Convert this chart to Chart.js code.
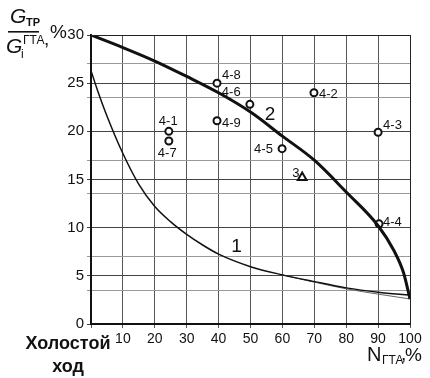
<!DOCTYPE html>
<html><head><meta charset="utf-8">
<script src="https://cdn.jsdelivr.net/npm/chart.js@4/dist/chart.umd.min.js"></script>
<style>html,body{margin:0;padding:0;background:#fff;}canvas{display:block;}</style>
</head><body>
<canvas id="c" width="430" height="378"></canvas>
<script>
// Curve 1 (thin) and curve 2 (thick), x = N_ГТА %, y = G_ТР/G_i^ГТА %
const curve1X = [0, 2, 5, 10, 15, 20, 25, 30, 35, 40, 50, 60, 70, 80, 90, 100];
const curve1Y = [26.3, 24.3, 21.6, 17.7, 14.5, 12.2, 10.6, 9.3, 8.2, 7.25, 5.95, 5.1, 4.4, 3.75, 3.3, 3.0];
// faint second trace near the end of curve 1
const curve1bX = [60, 70, 80, 90, 100];
const curve1bY = [5.1, 4.35, 3.65, 3.1, 2.6];
const curve2X = [0, 10, 20, 30, 40, 50, 60, 70, 80, 90, 95, 98, 100];
const curve2Y = [30, 28.7, 27.3, 25.7, 24.0, 22.0, 19.5, 17.0, 13.7, 10.2, 7.6, 5.3, 2.6];
// Experimental points
const pointNames = ['4-1', '4-7', '4-8', '4-6', '4-9', '4-5', '4-2', '4-3', '4-4'];
const pointX = [24.4, 24.4, 39.5, 49.8, 39.5, 59.9, 69.9, 90, 90.3];
const pointY = [20.0, 19.0, 25.0, 22.8, 21.1, 18.2, 24.0, 19.9, 10.4];
const trianglePoint = { name: '3', x: 66.2, y: 15.2 };
const curveNames = ['1', '2'];
const curveLabelX = [44, 54.5];
const curveLabelY = [7.5, 21.2];
// Axis ticks / grid
const xTicks = [0, 10, 20, 30, 40, 50, 60, 70, 80, 90, 100];
const yGrid = [0, 3.5, 5, 7, 10, 13.5, 15, 17, 20, 23.5, 25, 27, 30];

// label offsets (pixels, left/baseline relative to the marker)
const labelOffsets = [[-10, -6], [-11, 16], [5, -4], [-28, -8], [5, 6], [-28, 4], [5, 5], [5, -3], [4, 2]];

const FONT = "'Liberation Sans', Arial, sans-serif";

const labelsPlugin = {
  id: 'labels',
  afterDraw(chart) {
    const ctx = chart.ctx, xs = chart.scales.x, ys = chart.scales.y, a = chart.chartArea;
    ctx.save();
    ctx.fillStyle = '#111';
    ctx.textAlign = 'left';
    ctx.textBaseline = 'alphabetic';
    // top & right frame
    ctx.strokeStyle = '#222'; ctx.lineWidth = 1;
    ctx.beginPath(); ctx.moveTo(a.left, a.top + 0.5); ctx.lineTo(a.right + 0.5, a.top + 0.5); ctx.lineTo(a.right + 0.5, a.bottom); ctx.stroke();
    // point labels
    ctx.font = '13px ' + FONT;
    pointNames.forEach((n, i) => {
      const px = xs.getPixelForValue(pointX[i]), py = ys.getPixelForValue(pointY[i]);
      ctx.fillText(n, px + labelOffsets[i][0], py + labelOffsets[i][1]);
    });
    ctx.fillText(trianglePoint.name, xs.getPixelForValue(trianglePoint.x) - 10, ys.getPixelForValue(trianglePoint.y) - 1);
    // curve labels
    ctx.font = '19px ' + FONT;
    curveNames.forEach((n, i) => ctx.fillText(n, xs.getPixelForValue(curveLabelX[i]), ys.getPixelForValue(curveLabelY[i])));
    // Y title: G_ТР / G_i^ГТА, %
    ctx.font = 'italic 21px ' + FONT;
    ctx.fillText('G', 10, 23);
    ctx.fillText('G', 6, 53);
    ctx.font = 'bold 11px ' + FONT;
    ctx.fillText('ТР', 26, 26);
    ctx.font = '12px ' + FONT;
    ctx.fillText('i', 21, 58);
    ctx.fillText('ГТА', 23, 44);
    ctx.fillRect(8, 31, 31, 1.6);
    ctx.font = '19px ' + FONT;
    ctx.fillText(',', 44, 45);
    ctx.fillText('%', 50, 38);
    // X title: N_ГТА, %
    ctx.font = '20px ' + FONT;
    ctx.fillText('N', 367, 361);
    ctx.font = '12px ' + FONT;
    ctx.fillText('ГТА', 382, 364);
    ctx.font = '19px ' + FONT;
    ctx.fillText(',', 401, 360);
    ctx.fillText('%', 405, 361);
    // "Холостой ход"
    ctx.font = 'bold 18px ' + FONT;
    ctx.textAlign = 'center';
    ctx.fillText('Холостой', 68, 349);
    ctx.fillText('ход', 68, 372);
    ctx.restore();
  }
};

new Chart(document.getElementById('c'), {
  type: 'scatter',
  data: {
    datasets: [
      { type: 'line', data: curve2X.map((x, i) => ({ x, y: curve2Y[i] })), borderColor: '#111', borderWidth: 3, pointRadius: 0, cubicInterpolationMode: 'monotone', fill: false },
      { type: 'line', data: curve1X.map((x, i) => ({ x, y: curve1Y[i] })), borderColor: '#111', borderWidth: 1.5, pointRadius: 0, cubicInterpolationMode: 'monotone', fill: false },
      { type: 'line', data: curve1bX.map((x, i) => ({ x, y: curve1bY[i] })), borderColor: '#666', borderWidth: 1, pointRadius: 0, cubicInterpolationMode: 'monotone', fill: false },
      { data: pointX.map((x, i) => ({ x, y: pointY[i] })), pointStyle: 'circle', pointRadius: 3.5, borderWidth: 2, borderColor: '#111', backgroundColor: '#fff' },
      { data: [{ x: trianglePoint.x, y: trianglePoint.y }], pointStyle: 'triangle', pointRadius: 5, borderWidth: 2, borderColor: '#111', backgroundColor: '#fff' }
    ]
  },
  options: {
    responsive: false,
    animation: false,
    events: [],
    layout: { padding: { left: 0, right: 20, top: 35, bottom: 0 } },
    plugins: { legend: { display: false }, tooltip: { enabled: false } },
    scales: {
      x: {
        type: 'linear', min: 0, max: 100,
        afterFit(s) { s.height = 54; },
        afterBuildTicks(s) { s.ticks = xTicks.map(v => ({ value: v })); },
        border: { display: true, color: '#111', width: 2 },
        grid: { color: '#555', lineWidth: 1, tickLength: 4, drawTicks: true },
        ticks: { color: '#111', font: { family: FONT, size: 14 }, padding: 3, maxRotation: 0, autoSkip: false,
          callback: v => (v === 0 ? '' : String(v)) }
      },
      y: {
        type: 'linear', min: 0, max: 30,
        afterFit(s) { s.width = 91; },
        afterBuildTicks(s) { s.ticks = yGrid.map(v => ({ value: v })); },
        border: { display: true, color: '#111', width: 2 },
        grid: { color: c => (c.tick && c.tick.value % 5 === 0 ? '#444' : '#999'), lineWidth: 1, tickLength: 4 },
        ticks: { color: '#111', font: { family: FONT, size: 15 }, padding: 3, autoSkip: false,
          callback: v => (v % 5 === 0 ? String(v) : '') }
      }
    }
  },
  plugins: [labelsPlugin]
});
</script>
</body></html>
